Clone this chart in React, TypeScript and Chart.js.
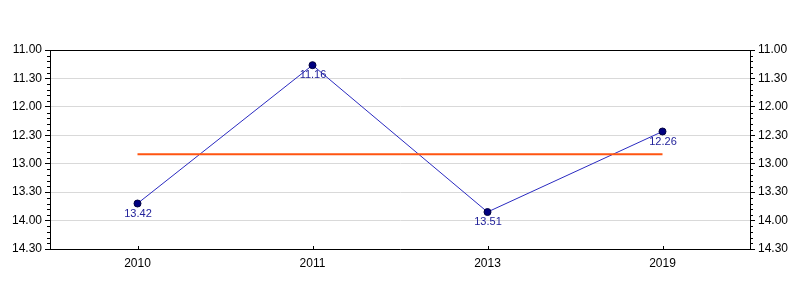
import React, { useEffect, useRef } from "react";
import { Chart, registerables } from "chart.js";

Chart.register(...registerables);

// Times in minutes (decimal) — labelled as mm.ss
const categories = ["2010", "2011", "2013", "2019"];
const timeLabels = ["13.42", "11.16", "13.51", "12.26"];
const timeValues = [13 + 42 / 60, 11 + 16 / 60, 13 + 51 / 60, 12 + 26 / 60];
const averageValues = [12.835, 12.835, 12.835, 12.835];
const yMin = 11;
const yMax = 14.5;

const fmt = (v: number) => {
  const m = Math.floor(v + 1e-9);
  const s = Math.round((v - m) * 60);
  return m + "." + String(s).padStart(2, "0");
};

const FONT = "'Liberation Sans', Arial, sans-serif";

const decorPlugin = {
  id: "decor",
  afterDraw(chart: any) {
    const ctx = chart.ctx;
    const a = chart.chartArea;
    const y = chart.scales.y;
    const x = chart.scales.x;
    ctx.save();
    ctx.strokeStyle = "#000";
    ctx.lineWidth = 1;
    // frame
    ctx.beginPath();
    ctx.moveTo(a.left, a.top + 0.5);
    ctx.lineTo(a.right, a.top + 0.5);
    ctx.stroke();
    // minor ticks
    ctx.beginPath();
    for (let i = 0; i <= 35; i++) {
      if (i % 5 === 0) continue;
      const v = yMin + i * 0.1;
      const py = Math.round(y.getPixelForValue(v)) + 0.5;
      ctx.moveTo(a.left - 3, py);
      ctx.lineTo(a.left, py);
      ctx.moveTo(a.right, py);
      ctx.lineTo(a.right + 3, py);
    }
    // x inward ticks
    for (let i = 0; i < categories.length; i++) {
      const px = Math.round(x.getPixelForValue(i)) + 0.5;
      ctx.moveTo(px, a.bottom);
      ctx.lineTo(px, a.bottom - 3);
    }
    ctx.stroke();
    // data labels
    const meta = chart.getDatasetMeta(1);
    ctx.fillStyle = "#22229a";
    ctx.font = "11px " + FONT;
    ctx.textAlign = "center";
    ctx.textBaseline = "middle";
    meta.data.forEach((pt: any, i: number) => {
      ctx.fillText(timeLabels[i], pt.x + 0.5, pt.y + 10);
    });
    ctx.restore();
  },
};

export default function App() {
  const ref = useRef<HTMLCanvasElement | null>(null);
  useEffect(() => {
    if (!ref.current) return;
    const yAxisBase = (position: string) => ({
      type: "linear" as const,
      position,
      min: yMin,
      max: yMax,
      reverse: true,
      afterFit: (s: any) => {
        s.width = 50;
      },
      afterBuildTicks: (s: any) => {
        const t = [];
        for (let i = 0; i <= 7; i++) t.push({ value: yMin + i * 0.5 });
        s.ticks = t;
      },
      ticks: {
        color: "#000",
        font: { size: 12, family: FONT },
        padding: 3,
        callback: (v: any) => fmt(Number(v)),
      },
      border: { display: true, color: "#000", width: 1 },
      grid: {
        drawOnChartArea: position === "left",
        color: "#d9d9d9",
        tickColor: "#000",
        tickLength: 5,
        lineWidth: 1,
      },
    });
    const chart = new Chart(ref.current, {
      type: "line",
      data: {
        labels: categories,
        datasets: [
          {
            label: "Average",
            data: averageValues,
            borderColor: "#ff5511",
            borderWidth: 2,
            pointRadius: 0,
            fill: false,
            yAxisID: "y",
          },
          {
            label: "Time",
            data: timeValues,
            borderColor: "#2a2ac0",
            borderWidth: 1,
            pointRadius: 3.5,
            pointBackgroundColor: "#000080",
            pointBorderColor: "#000040",
            pointBorderWidth: 1,
            fill: false,
            yAxisID: "y",
          },
        ],
      },
      options: {
        animation: false,
        responsive: false,
        maintainAspectRatio: false,
        layout: { padding: { top: 50, left: 0, right: 0, bottom: 0 } },
        plugins: { legend: { display: false }, tooltip: { enabled: false } },
        scales: {
          x: {
            type: "category",
            offset: true,
            afterFit: (s: any) => {
              s.height = 51;
            },
            ticks: { color: "#000", font: { size: 12, family: FONT }, padding: 7 },
            border: { display: true, color: "#000", width: 1 },
            grid: { display: true, drawOnChartArea: false, drawTicks: false },
          },
          y: yAxisBase("left") as any,
          y2: yAxisBase("right") as any,
        },
      },
      plugins: [decorPlugin],
    });
    return () => chart.destroy();
  }, []);
  return (
    <div style={{ position: "fixed", left: 0, top: 0, width: 800, height: 300, background: "#fff" }}>
      <canvas ref={ref} width={800} height={300} style={{ display: "block" }} />
    </div>
  );
}
